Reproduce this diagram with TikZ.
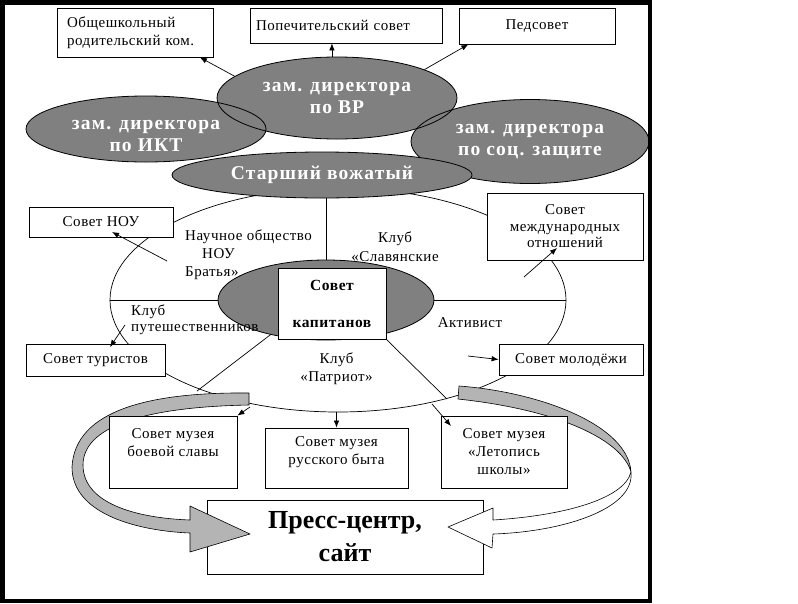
\documentclass[tikz,border=0pt]{standalone}
\usepackage{fontspec}
\setmainfont{Liberation Serif}[LetterSpace=3.5]
\newfontfamily\ellfam{Liberation Serif}[LetterSpace=6]
\newfontfamily\plainfam{Liberation Serif}
\usetikzlibrary{shapes.geometric,arrows.meta}
\newcommand\fsn{\fontsize{15}{18}\selectfont}
\newcommand\fse{\ellfam\fontsize{19.5}{22}\selectfont\bfseries}
\newcommand\fsk{\fontsize{15.5}{37}\selectfont\bfseries}
\newcommand\fsp{\plainfam\fontsize{26}{33}\selectfont\bfseries}
\definecolor{ellgray}{HTML}{808080}
\definecolor{bandgray}{HTML}{B4B4B4}
\begin{document}
\begin{tikzpicture}[x=1pt,y=-1pt,
  box/.style={draw, fill=white, line width=0.8pt, inner sep=0pt, align=center, font=\fsn},
  ell/.style={ellipse, draw, line width=0.8pt, inner sep=0pt, align=center, text=white, font=\fse},
  txt/.style={inner sep=0pt, font=\fsn},
  arr/.style={-{Latex[length=7pt,width=5.5pt]}, line width=0.7pt},
  ln/.style={line width=0.7pt},
  band/.style={draw, line width=0.6pt, line join=round}]
\useasboundingbox (0,0) rectangle (798,603);
\fill[white] (0,0) rectangle (798,603);

% big ring
\node[ellipse, draw, line width=0.7pt, minimum width=456pt, minimum height=224pt, inner sep=0pt] (ring) at (338,300) {};

% capitans ellipse + box
\node[ellipse, draw, fill=ellgray, line width=0.8pt, minimum width=216pt, minimum height=80pt, inner sep=0pt] (kap) at (326,300) {};
\node[box, minimum width=108pt, minimum height=71pt, font=\fsk] (kapbox) at (332,303.5) {Совет\\капитанов};

% coordinates
\coordinate (ringBL) at (197,391);
\coordinate (ringBR) at (447,399);
\draw[ln] (ring.west) -- (kap.west);
\draw[ln] (kap.east) -- (ring.east);
\draw[ln] (kap.212) -- (ringBL);
\draw[ln] (kapbox.south east) -- (ringBR);

% top ellipses
\fill[ellgray] (337,98) ellipse (120 and 41);
\fill[ellgray] (530,141.5) ellipse (119 and 42);
\fill[ellgray] (146,129) ellipse (120 and 33);
\node[ell, minimum width=240pt, minimum height=82pt] (vr) at (337,98) {зам. директора\\по ВР};
\node[ell, minimum width=238pt, minimum height=84pt] (soc) at (530,141.5) {зам. директора\\по соц. защите};
\node[ell, minimum width=240pt, minimum height=66pt] (ikt) at (146,129) {};
\node[inner sep=0pt, align=center, text=white, font=\fse] (iktt) at (146,136) {зам. директора\\по ИКТ};
\node[ell, fill=ellgray, minimum width=300pt, minimum height=46pt] (voz) at (322,175) {Старший вожатый};
\draw[ln] (voz.south -| kap.north) -- (kap.north);

% top boxes
\node[box, minimum width=156pt, minimum height=49pt, text width=136pt, align=left] (obsh) at (135,32.5) {Общешкольный\\родительский ком.};
\node[box, minimum width=192pt, minimum height=35pt, text width=180pt, align=left] (pop) at (346,25.5) {Попечительский совет};
\node[box, minimum width=156pt, minimum height=36pt] (ped) at (537,26) {Педсовет};
\draw[arr] (vr.168.6) -- (obsh.-21.6);
\draw[arr] (vr.97) -- (vr.97 |- pop.south);
\draw[arr] (vr.18.8) -- (ped.195.7);

% ring boxes
\node[box, minimum width=144pt, minimum height=30pt] (nou) at (101,222) {Совет НОУ};
\node[box, minimum width=139pt, minimum height=32pt] (tur) at (95.5,360) {Совет туристов};
\node[box, minimum width=156pt, minimum height=67pt, font=\fontsize{15}{16.5}\selectfont] (mezh) at (565,226.5) {Совет\\международных\\отношений};
\node[box, minimum width=144pt, minimum height=31pt] (mol) at (571,359.5) {Совет молодёжи};

\coordinate (nouS) at (167,261);
\coordinate (nouT) at (112,232);
\coordinate (turS) at (125,325);
\coordinate (turT) at (110,347);
\coordinate (mezS) at (524,277);
\coordinate (mezT) at (557,248);
\coordinate (molS) at (468,356);
\draw[arr] (nouS) -- (nouT);
\draw[arr] (turS) -- (turT);
\draw[arr] (mezS) -- (mezT);
\draw[arr] (molS) -- (mol.west);

% press centre
\node[box, minimum width=276pt, minimum height=74pt, font=\fsp] (press) at (345,537) {Пресс-центр,\\сайт};

% left band arrow
\path[band, fill=bandgray] (249,393) .. controls (150,392) and (75,410) .. (72,467)
  .. controls (72,515) and (140,531) .. (190,533) -- (190,552) -- (250,534) -- (190,506) -- (190,520)
  .. controls (135,518) and (83,503) .. (83,465) .. controls (83,428) and (140,407) .. (249,405) -- cycle;
% right band arrow
\path[band, fill=bandgray] (459,386) .. controls (540,392) and (628,425) .. (631,472)
  .. controls (622,440) and (560,410) .. (458,399) -- cycle;
\path[band, fill=white] (631,472) .. controls (635,510) and (560,532) .. (493,534) -- (492,548) -- (448,527) -- (493,508) -- (493,520)
  .. controls (560,516) and (624,500) .. (631,472) -- cycle;

% museum boxes
\node[box, minimum width=128pt, minimum height=72pt] (boev) at (173,452) {Совет музея\\боевой славы\\\mbox{}};
\node[box, minimum width=143pt, minimum height=60pt] (rus) at (336.5,458) {};
\node[txt, align=center] (rust) at (336.5,452.5) {Совет музея\\русского быта};
\node[box, minimum width=126pt, minimum height=72pt] (let) at (504,452) {Совет музея\\«Летопись\\школы»};

\coordinate (boevS) at (250,407);
\coordinate (letS) at (432,404);
\coordinate (letT) at (451,426);
\draw[arr] (boevS) -- (boev.north east);
\draw[arr] (rus.north |- ring.south) -- (rus.north);
\draw[arr] (letS) -- (letT);

% free labels
\node[txt, anchor=west, align=left] (nauch) at (185,255) {Научное общество\\\hspace*{17pt}НОУ\\Братья»};
\node[txt, align=center, font=\fontsize{15}{19}\selectfont] (slav) at (395,246.5) {Клуб\\«Славянские};
\node[txt, anchor=west, align=left, font=\fontsize{15}{16}\selectfont] (puti) at (131,320) {Клуб\\путешественников};
\node[txt, align=center] (patr) at (336.5,369) {Клуб\\«Патриот»};
\node[txt] (akt) at (470,323) {Активист};

% frame
\draw[line width=4.5pt] (2.25,2.25) rectangle (650,600.75);
\end{tikzpicture}
\end{document}
